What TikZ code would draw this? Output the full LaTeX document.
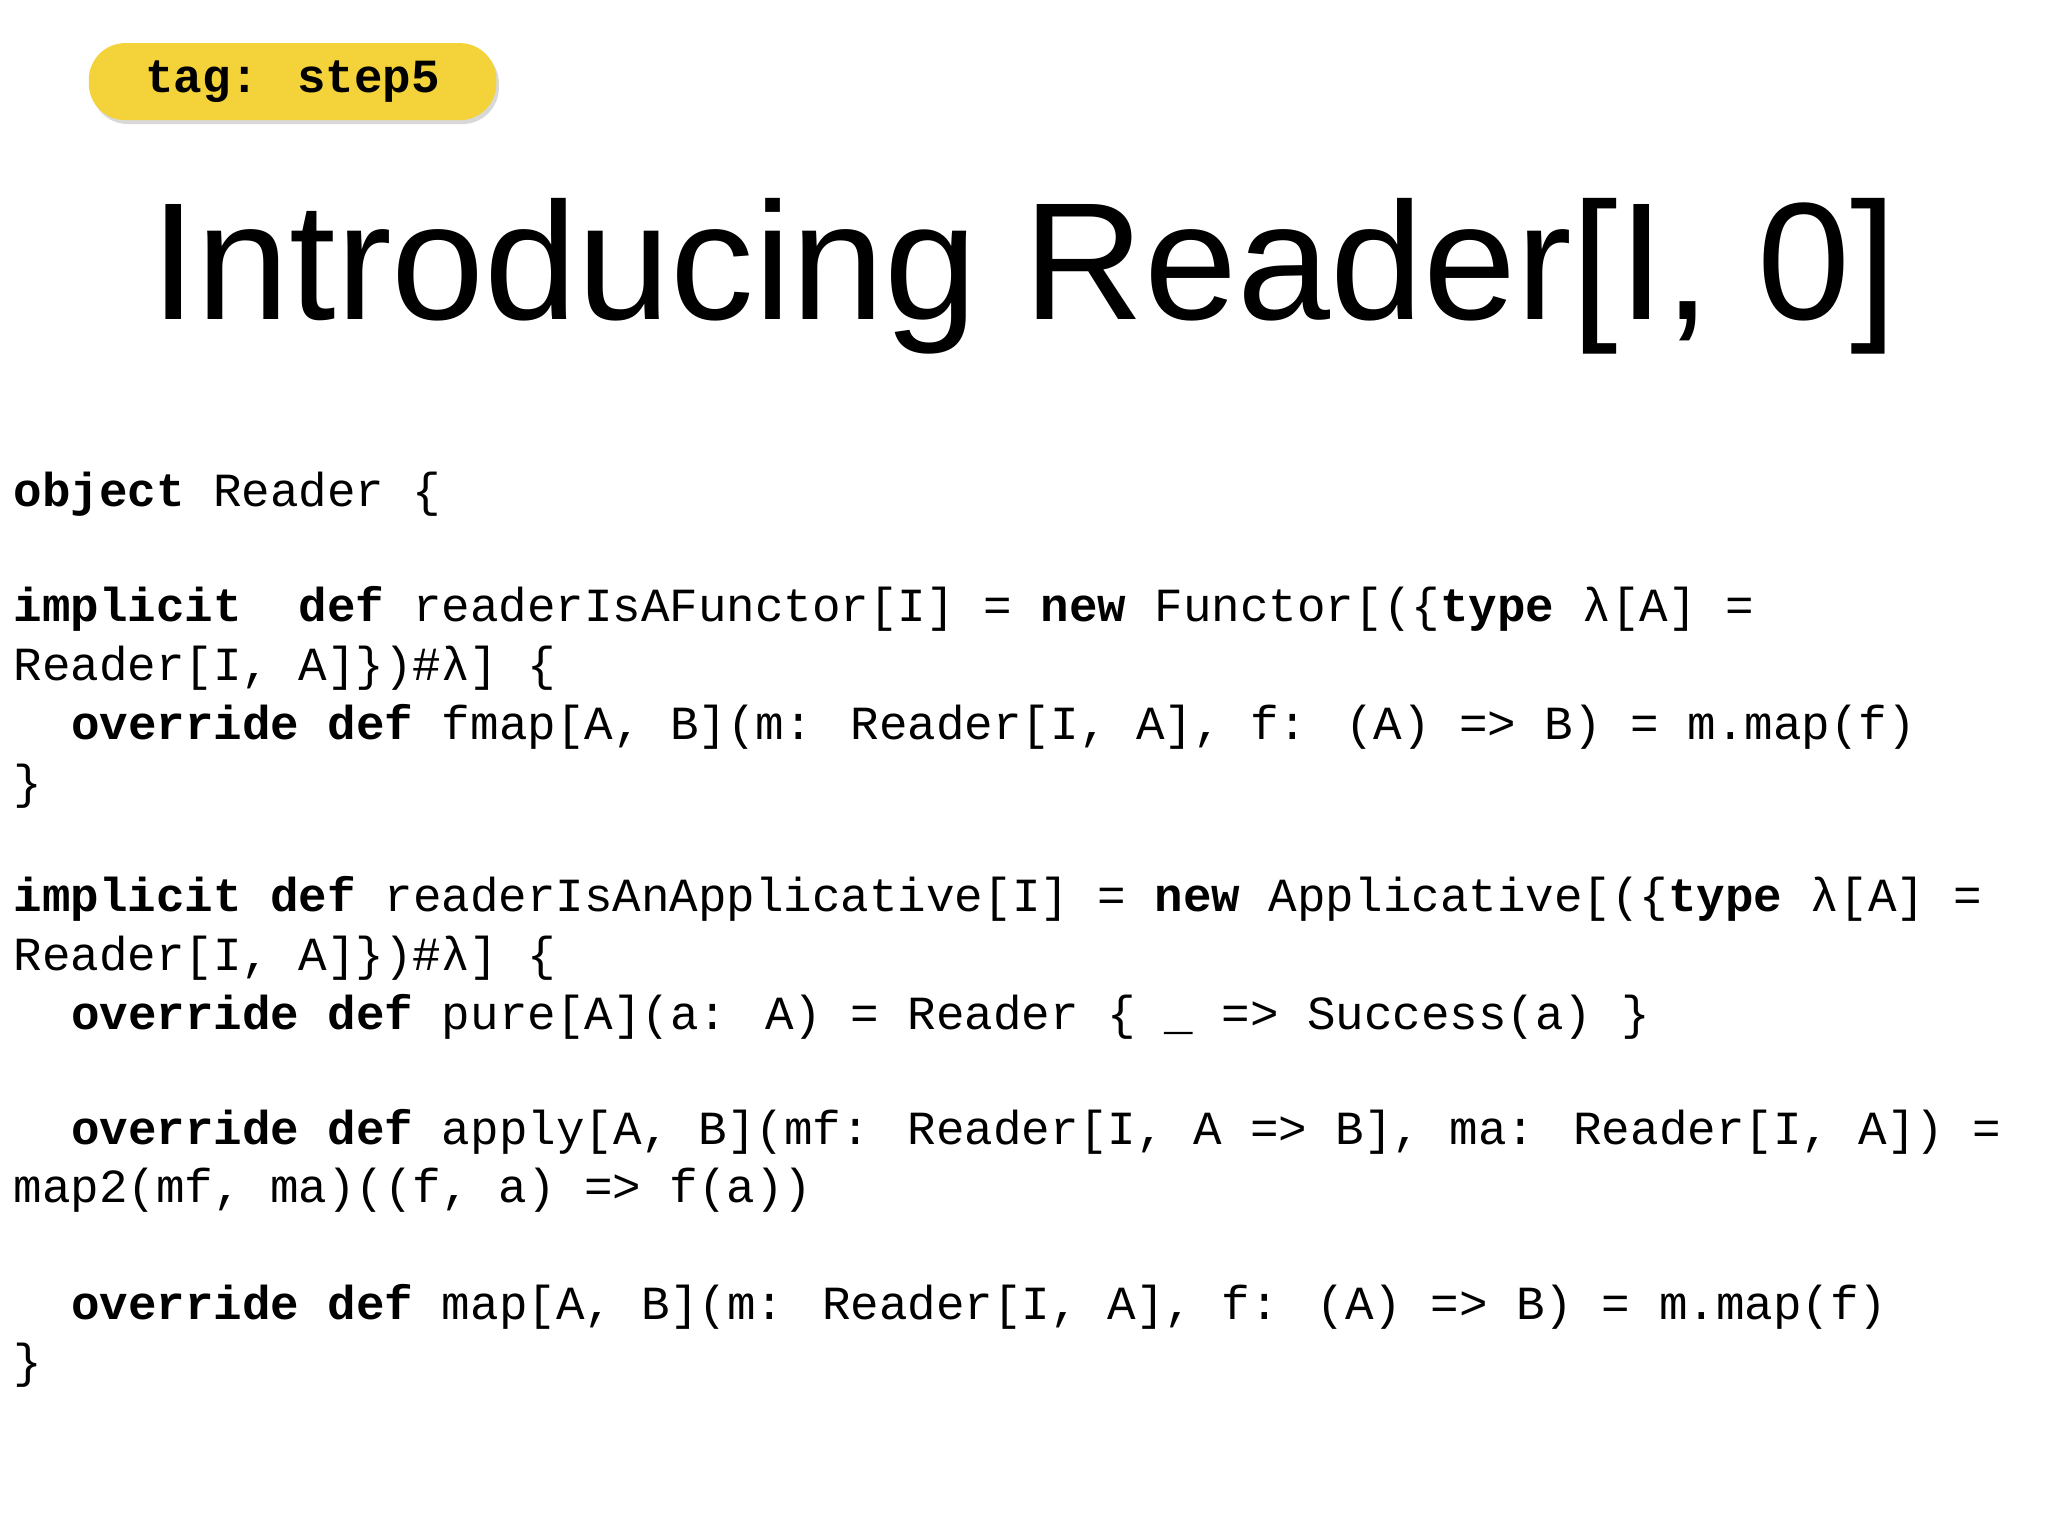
\documentclass[tikz,border=0pt]{standalone}
\usepackage{fontspec}
\setmainfont{Liberation Sans}
\newfontfamily\code{Liberation Mono}
\usetikzlibrary{shadows}
\definecolor{tagyellow}{HTML}{F3D23A}
\tikzset{
  cl/.style={anchor=base west,inner sep=0pt,font=\code\fontsize{18.2pt}{22pt}\selectfont},
}
\begin{document}
\begin{tikzpicture}[x=0.5pt,y=-0.5pt]
\useasboundingbox[fill=white] (0,0) rectangle (1568,1176);
\node[draw=none,fill=tagyellow,rounded corners=14pt,minimum width=156pt,minimum height=29.5pt,
  drop shadow={shadow xshift=1pt,shadow yshift=-1.5pt,opacity=0.3},
  font=\code\bfseries\fontsize{18.2pt}{22pt}\selectfont] (tag) at (224,62.5) {tag: step5};
\node[anchor=base,inner sep=0pt,font=\fontsize{64pt}{70pt}\selectfont] (title) at (784,245) {Introducing Reader[I, 0]};
\node[cl] (l1) at (10,388) {\textbf{object} Reader \{};
\node[cl] (l2) at (10,476) {\textbf{implicit}\ \ \textbf{def} readerIsAFunctor[I] = \textbf{new} Functor[(\{\textbf{type} λ[A] =};
\node[cl] (l3) at (10,521) {Reader[I, A]\})\#λ] \{};
\node[cl] (l4) at (54,566) {\textbf{override def} fmap[A, B](m: Reader[I, A], f: (A) => B) = m.map(f)};
\node[cl] (l5) at (10,611) {\}};
\node[cl] (l6) at (10,698) {\textbf{implicit def} readerIsAnApplicative[I] = \textbf{new} Applicative[(\{\textbf{type} λ[A] =};
\node[cl] (l7) at (10,743) {Reader[I, A]\})\#λ] \{};
\node[cl] (l8) at (54,788) {\textbf{override def} pure[A](a: A) = Reader \{ \_ => Success(a) \}};
\node[cl] (l9) at (54,876) {\textbf{override def} apply[A, B](mf: Reader[I, A => B], ma: Reader[I, A]) =};
\node[cl] (l10) at (10,921) {map2(mf, ma)((f, a) => f(a))};
\node[cl] (l11) at (54,1010) {\textbf{override def} map[A, B](m: Reader[I, A], f: (A) => B) = m.map(f)};
\node[cl] (l12) at (10,1055) {\}};
\end{tikzpicture}
\end{document}
